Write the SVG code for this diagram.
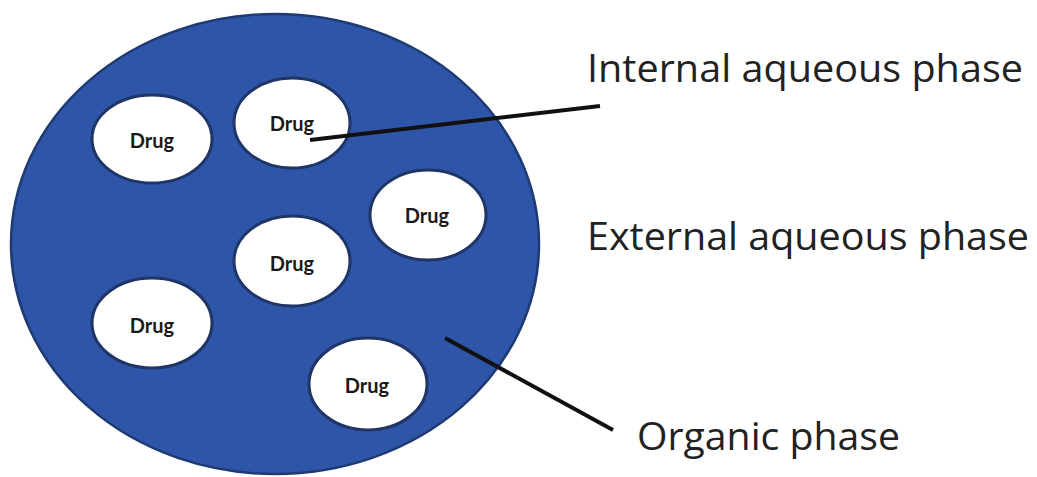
<svg xmlns="http://www.w3.org/2000/svg" width="1037" height="477" viewBox="0 0 1037 477">
<style>
.drop{fill:#ffffff;stroke:#1e3566;stroke-width:3}
.dl{font-family:Lato,"Liberation Sans",sans-serif;font-weight:bold;font-size:20px;fill:#1a1a1a;text-anchor:middle}
.lbl{font-family:"Open Sans","Noto Sans",sans-serif;font-size:39px;fill:#222222}
.conn{stroke:#111111;stroke-width:4;stroke-linecap:butt;fill:none}
</style>
<rect width="1037" height="477" fill="#ffffff"/>
<g id="organic-phase">
<ellipse cx="275" cy="244" rx="264" ry="230" fill="#2e55a8" stroke="#1f3a72" stroke-width="2.5"/>
</g>
<g id="drug1"><ellipse class="drop" cx="152" cy="139" rx="60" ry="44"/><text class="dl" x="152" y="148">Drug</text></g>
<g id="drug2"><ellipse class="drop" cx="292" cy="123" rx="58" ry="45"/><text class="dl" x="292" y="131">Drug</text></g>
<g id="drug3"><ellipse class="drop" cx="428" cy="215" rx="58" ry="45"/><text class="dl" x="427" y="223">Drug</text></g>
<g id="drug4"><ellipse class="drop" cx="292" cy="261" rx="58" ry="45"/><text class="dl" x="292" y="271">Drug</text></g>
<g id="drug5"><ellipse class="drop" cx="152" cy="323" rx="60" ry="45"/><text class="dl" x="152" y="333">Drug</text></g>
<g id="drug6"><ellipse class="drop" cx="368" cy="384" rx="59" ry="46"/><text class="dl" x="367" y="393">Drug</text></g>
<g id="connectors">
<line class="conn" x1="310" y1="140" x2="600" y2="106"/>
<line class="conn" x1="445" y1="338" x2="613" y2="430"/>
</g>
<g id="label-internal"><text class="lbl" x="587" y="82" textLength="436" lengthAdjust="spacingAndGlyphs">Internal aqueous phase</text></g>
<g id="label-external"><text class="lbl" x="587" y="250" textLength="442" lengthAdjust="spacingAndGlyphs">External aqueous phase</text></g>
<g id="label-organic"><text class="lbl" x="637" y="450" textLength="263" lengthAdjust="spacingAndGlyphs">Organic phase</text></g>
</svg>
